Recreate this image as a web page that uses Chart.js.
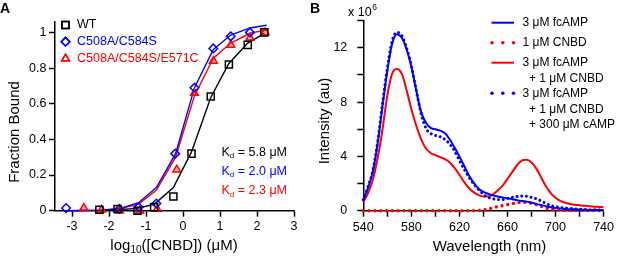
<!DOCTYPE html>
<html>
<head>
<meta charset="utf-8">
<script src="https://cdn.jsdelivr.net/npm/chart.js@4.4.0/dist/chart.umd.min.js"></script>
<style>
html, body { margin: 0; padding: 0; background: #fff; }
#wrap { position: relative; width: 617px; height: 260px; }
#boxA { position: absolute; left: 0; top: 0; width: 308px; height: 260px; }
#boxB { position: absolute; left: 308px; top: 0; width: 309px; height: 260px; }
</style>
</head>
<body>
<div id="wrap">
  <div id="boxA"><canvas id="chartA" width="308" height="260"></canvas></div>
  <div id="boxB"><canvas id="chartB" width="309" height="260"></canvas></div>
</div>
<script>
// ---- panel A : binding curves (x = log10 [CNBD], y = fraction bound)
var wtX = [-2.26, -1.77, -1.23, -0.78, -0.26, 0.23, 0.75, 1.24, 1.75, 2.2];
var wtY = [0.005, 0.01, 0.0, 0.02, 0.08, 0.32, 0.64, 0.82, 0.93, 1.0];
var wtFit = [0.0, 0.005, 0.013, 0.036, 0.13, 0.33, 0.635, 0.826, 0.94, 0.995];

var dsX = [-3.16, -1.72, -1.2, -0.72, -0.21, 0.31, 0.82, 1.29, 1.81];
var dsY = [0.015, 0.01, 0.02, 0.04, 0.32, 0.69, 0.91, 0.978, 1.0];

var tsX = [-2.68, -2.2, -1.72, -1.17, -0.7, -0.17, 0.31, 0.82, 1.29, 1.81, 2.22];
var tsY = [0.015, 0.005, 0.0, 0.0, 0.01, 0.23, 0.66, 0.84, 0.93, 0.97, 1.0];

var fitX = [-3.16, -2.68, -2.2, -1.72, -1.2, -0.72, -0.2, 0.31, 0.82, 1.29, 1.81, 2.26];
var dsFit = [0.0, 0.001, 0.003, 0.012, 0.045, 0.13, 0.32, 0.69, 0.905, 0.985, 1.025, 1.04];
var tsFit = [0.0, 0.001, 0.003, 0.01, 0.037, 0.115, 0.30, 0.645, 0.855, 0.94, 0.995, 1.015];

var kdLabels = ['5.8', '2.0', '2.3'];

// ---- panel B : emission spectra (x 10^6)
var wavelength = [540, 544, 548, 552, 556, 560, 564, 568, 572, 576, 580, 584, 588, 592, 596, 600,
  604, 608, 612, 616, 620, 624, 628, 632, 636, 640, 644, 648, 652, 656, 660, 664, 668, 672, 676,
  680, 684, 688, 692, 696, 700, 704, 708, 712, 716, 720, 724, 728, 732, 736, 740];
var fcamp = [0.8, 1.7, 2.9, 5.0, 7.7, 10.3, 12.3, 13.0, 12.75, 11.9, 10.6, 8.9, 7.3, 6.5, 6.1, 6.0,
  5.9, 5.7, 5.25, 4.65, 4.0, 3.3, 2.6, 2.05, 1.62, 1.38, 1.24, 1.13, 1.05, 0.98, 0.92, 0.85, 0.78, 0.72, 0.67,
  0.58, 0.5, 0.42, 0.33, 0.25, 0.2, 0.16, 0.13, 0.11, 0.1, 0.08, 0.07, 0.06, 0.05, 0.05, 0.05];
var cnbd = [0, 0, 0, 0, 0, 0, 0, 0, 0, 0, 0, 0, 0, 0, 0, 0,
  0, 0, 0, 0, 0, 0, 0, 0, 0.01, 0.05, 0.12, 0.22, 0.3, 0.38, 0.45, 0.52, 0.58, 0.62, 0.62,
  0.55, 0.45, 0.32, 0.2, 0.12, 0.07, 0.04, 0.02, 0.02, 0.02, 0.02, 0.02, 0.02, 0.02, 0.02, 0.02];
var mix = [0.65, 1.3, 2.3, 3.9, 6.0, 8.5, 10.1, 10.45, 10.1, 8.9, 7.5, 6.3, 5.3, 4.6, 4.25, 4.1,
  3.95, 3.8, 3.55, 3.15, 2.65, 2.1, 1.65, 1.35, 1.15, 1.05, 1.05, 1.2, 1.5, 1.85, 2.35, 2.85, 3.35, 3.7, 3.75,
  3.55, 3.1, 2.45, 1.8, 1.3, 0.95, 0.72, 0.58, 0.5, 0.44, 0.4, 0.36, 0.33, 0.3, 0.28, 0.26];
var mixCamp = [0.8, 1.8, 3.0, 5.1, 7.9, 10.5, 12.5, 13.15, 12.9, 12.0, 10.7, 8.9, 7.2, 6.1, 5.7, 5.55,
  5.45, 5.25, 4.9, 4.4, 3.7, 3.05, 2.45, 1.95, 1.55, 1.2, 0.98, 0.88, 0.82, 0.82, 0.9, 0.98, 1.04, 1.08, 1.06,
  0.98, 0.88, 0.72, 0.55, 0.38, 0.3, 0.24, 0.2, 0.17, 0.14, 0.12, 0.1, 0.08, 0.07, 0.06, 0.05];

var BLUE = '#0000ff';
var RED = '#ff0000';
var FONT = '"Liberation Sans", Arial, sans-serif';

function xy(xs, ys) {
  return xs.map(function(x, i){ return {x: x, y: ys[i]}; });
}

function axis(opts) {
  return Object.assign({
    type: 'linear',
    border: {display: true, color: '#000', width: 1.5},
    grid: {display: true, drawOnChartArea: false, drawTicks: true, tickLength: 6,
           tickWidth: 1.5, tickColor: '#000', color: '#000'}
  }, opts);
}

function tickFont() { return {family: FONT, size: 12.5}; }

// ---------- chart A
var textA = {
  id: 'textA',
  afterDraw: function(chart) {
    var ctx = chart.ctx;
    ctx.save();
    ctx.textBaseline = 'middle';
    ctx.fillStyle = '#000';
    ctx.font = 'bold 14px ' + FONT;
    ctx.fillText('A', 0, 9);

    // legend
    var items = [['WT', '#000', 'rect'], ['C508A/C584S', BLUE, 'rectRot'], ['C508A/C584S/E571C', RED, 'triangle']];
    var ly = [25, 41.7, 58.5];
    items.forEach(function(it, i){
      ctx.lineWidth = 1.5;
      ctx.strokeStyle = it[1];
      ctx.fillStyle = 'rgba(0,0,0,0)';
      Chart.helpers.drawPoint(ctx, {pointStyle: it[2], radius: it[2] === 'rect' ? 5 : 4.3, borderWidth: 1.5}, 65.5, ly[i]);
      ctx.stroke();
      ctx.fillStyle = it[1];
      ctx.font = '12.5px ' + FONT;
      ctx.textAlign = 'left';
      ctx.fillText(it[0], 77, ly[i]);
    });

    // Kd values
    var kc = ['#000', BLUE, RED];
    var ky = [152.7, 171.7, 191];
    kdLabels.forEach(function(v, i){
      var x = 221.5;
      ctx.fillStyle = kc[i];
      ctx.font = '12.5px ' + FONT;
      ctx.fillText('K', x, ky[i]);
      x += ctx.measureText('K').width;
      ctx.font = '8px ' + FONT;
      ctx.fillText('d', x, ky[i] + 3.5);
      x += ctx.measureText('d').width;
      ctx.font = '12.5px ' + FONT;
      ctx.fillText(' = ' + v + ' \u03bcM', x, ky[i]);
    });

    // axis titles
    ctx.fillStyle = '#000';
    ctx.font = '15px ' + FONT;
    ctx.save();
    ctx.translate(15, 132);
    ctx.rotate(-Math.PI / 2);
    ctx.textAlign = 'center';
    ctx.fillText('Fraction Bound', 0, 0);
    ctx.restore();

    var p1 = 'log', p2 = '10', p3 = '([CNBD]) (\u03bcM)';
    ctx.font = '15px ' + FONT;
    var w1 = ctx.measureText(p1).width, w3 = ctx.measureText(p3).width;
    ctx.font = '10px ' + FONT;
    var w2 = ctx.measureText(p2).width;
    var x0 = 174 - (w1 + w2 + w3) / 2;
    ctx.textAlign = 'left';
    ctx.font = '15px ' + FONT;
    ctx.fillText(p1, x0, 246);
    ctx.font = '10px ' + FONT;
    ctx.fillText(p2, x0 + w1, 250.5);
    ctx.font = '15px ' + FONT;
    ctx.fillText(p3, x0 + w1 + w2, 246);
    ctx.restore();
  }
};

new Chart(document.getElementById('chartA').getContext('2d'), {
  type: 'scatter',
  data: {
    datasets: [
      {data: xy(wtX, wtY), pointStyle: 'rect', pointRadius: 5, borderColor: '#000',
       backgroundColor: 'rgba(0,0,0,0)', pointBorderWidth: 1.5, showLine: false, clip: false},
      {data: xy(dsX, dsY), pointStyle: 'rectRot', pointRadius: 4.3, borderColor: BLUE,
       backgroundColor: 'rgba(0,0,0,0)', pointBorderWidth: 1.5, showLine: false, clip: false},
      {data: xy(tsX, tsY), pointStyle: 'triangle', pointRadius: 4.5, borderColor: RED,
       backgroundColor: 'rgba(255,0,0,0.3)', pointBorderWidth: 1.5, showLine: false, clip: false},
      {data: xy(wtX, wtFit), showLine: true, pointRadius: 0, borderColor: '#000', borderWidth: 1.4, clip: false},
      {data: xy(fitX, dsFit), showLine: true, pointRadius: 0, borderColor: BLUE, borderWidth: 1.4, clip: false},
      {data: xy(fitX, tsFit), showLine: true, pointRadius: 0, borderColor: RED, borderWidth: 1.4, clip: false}
    ]
  },
  options: {
    responsive: false,
    animation: false,
    events: [],
    layout: {padding: {top: 21.7, right: 14, left: 0, bottom: 0}},
    plugins: {legend: {display: false}, tooltip: {enabled: false}},
    scales: {
      x: axis({min: -3.46, max: 3,
        afterFit: function(s){ s.height = 49.3; },
        ticks: {stepSize: 1, includeBounds: false, color: '#000', font: tickFont(), padding: 2,
                maxRotation: 0, autoSkip: false,
                callback: function(v){ return String(v); }}}),
      y: axis({min: 0, max: 1.06,
        afterFit: function(s){ s.width = 55; },
        ticks: {stepSize: 0.2, includeBounds: false, color: '#000', font: tickFont(), padding: 2.5,
                autoSkip: false,
                callback: function(v){ return String(Math.round(v * 10) / 10); }}})
    }
  },
  plugins: [textA]
});

// ---------- chart B
var textB = {
  id: 'textB',
  afterDraw: function(chart) {
    var ctx = chart.ctx;
    ctx.save();
    ctx.textBaseline = 'middle';
    ctx.fillStyle = '#000';
    ctx.font = 'bold 14px ' + FONT;
    ctx.fillText('B', 2, 9);

    ctx.font = '12.5px ' + FONT;
    ctx.fillText('x 10', 40, 13);
    var w = ctx.measureText('x 10').width;
    ctx.font = '8.5px ' + FONT;
    ctx.fillText('6', 40 + w + 0.5, 7.5);

    ctx.font = '15px ' + FONT;
    ctx.save();
    ctx.translate(17, 121);
    ctx.rotate(-Math.PI / 2);
    ctx.textAlign = 'center';
    ctx.fillText('Intensity (au)', 0, 0);
    ctx.restore();
    ctx.textAlign = 'center';
    ctx.fillText('Wavelength (nm)', 181.5, 246.5);

    // legend
    var lx0 = 183.5, lx1 = 206;
    ctx.lineCap = 'butt';
    ctx.strokeStyle = BLUE; ctx.lineWidth = 2;
    ctx.beginPath(); ctx.moveTo(lx0, 22.7); ctx.lineTo(lx1, 22.7); ctx.stroke();
    ctx.strokeStyle = RED;
    ctx.beginPath(); ctx.moveTo(lx0, 62.7); ctx.lineTo(lx1, 62.7); ctx.stroke();
    [[RED, 42.7], [BLUE, 93.3]].forEach(function(d){
      ctx.fillStyle = d[0];
      [lx0 + 0.5, lx0 + 11.3, lx0 + 22].forEach(function(x){
        ctx.beginPath(); ctx.arc(x, d[1], 1.8, 0, Math.PI * 2); ctx.fill();
      });
    });
    ctx.fillStyle = '#000';
    ctx.textAlign = 'left';
    ctx.font = '12px ' + FONT;
    var rows = [['3 \u03bcM fcAMP', 214.5, 22.7], ['1 \u03bcM CNBD', 214.5, 42.7],
      ['3 \u03bcM fcAMP', 214.5, 62.7], ['+ 1 \u03bcM CNBD', 221, 79],
      ['3 \u03bcM fcAMP', 214.5, 93.3], ['+ 1 \u03bcM CNBD', 221, 109.3], ['+ 300 \u03bcM cAMP', 221, 124.7]];
    rows.forEach(function(r){ ctx.fillText(r[0], r[1], r[2]); });
    ctx.restore();
  }
};

function specSet(vals, color, dotted, width) {
  var d = {data: xy(wavelength, vals), showLine: true, pointRadius: 0, borderColor: color,
           cubicInterpolationMode: 'monotone', clip: false, borderWidth: width};
  if (dotted) {
    d.borderDash = [0.001, dotted];
    d.borderCapStyle = 'round';
  }
  return d;
}

new Chart(document.getElementById('chartB').getContext('2d'), {
  type: 'scatter',
  data: {
    datasets: [
      specSet(mixCamp, BLUE, 4.7, 3),
      specSet(fcamp, BLUE, 0, 2),
      specSet(mix, RED, 0, 2),
      specSet(cnbd, RED, 5.8, 3.4)
    ]
  },
  options: {
    responsive: false,
    animation: false,
    events: [],
    layout: {padding: {top: 20.7, right: 12.3, left: 0, bottom: 0}},
    plugins: {legend: {display: false}, tooltip: {enabled: false}},
    scales: {
      x: axis({min: 540, max: 740,
        afterFit: function(s){ s.height = 49.3; },
        ticks: {stepSize: 20, color: '#000', font: tickFont(), padding: 3, maxRotation: 0, autoSkip: false,
                callback: function(v){ return (v - 540) % 40 === 0 ? String(v) : ''; }}}),
      y: axis({min: 0, max: 14,
        afterFit: function(s){ s.width = 55.3; },
        ticks: {stepSize: 2, color: '#000', font: tickFont(), padding: 10, autoSkip: false,
                callback: function(v){ return v % 4 === 0 ? String(v) : ''; }}})
    }
  },
  plugins: [textB]
});
</script>
</body>
</html>
